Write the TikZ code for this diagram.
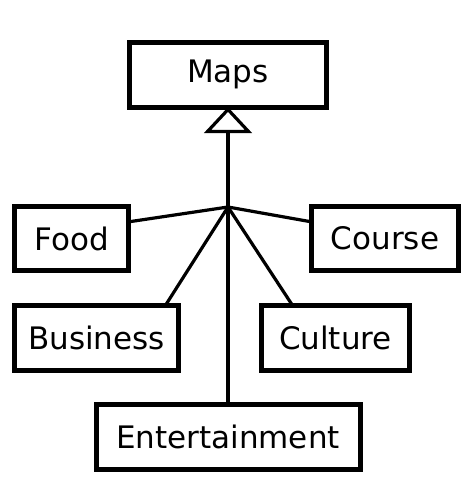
\documentclass[tikz,border=0pt]{standalone}
\usepackage{fontspec}
\setmainfont{DejaVu Sans}
\usetikzlibrary{arrows.meta,calc}
\begin{document}
\begin{tikzpicture}[x=1pt,y=-1pt,
  cls/.style={draw=black,line width=5pt,rectangle,inner sep=0pt,outer sep=0pt,
    font=\fontsize{31}{37}\selectfont,fill=white},
  link/.style={line width=3.2pt,black},
  gen/.style={draw=black,line width=3.2pt,fill=white,line join=miter}]
\useasboundingbox (0,0) rectangle (474,477);
\node[cls,minimum width=197pt,minimum height=65.5pt] (maps) at (228,74.75) {Maps};
\node[cls,minimum width=114pt,minimum height=64pt] (food) at (71.5,238.5) {Food};
\node[cls,minimum width=147pt,minimum height=64pt] (course) at (385,238.5) {Course};
\node[cls,minimum width=164pt,minimum height=65pt] (business) at (96.5,338) {Business};
\node[cls,minimum width=148pt,minimum height=65pt] (culture) at (335.5,338) {Culture};
\node[cls,minimum width=264pt,minimum height=65pt] (ent) at (228,437) {Entertainment};
\coordinate (j) at (228,207);
\draw[link] (j) -- (maps.south);
\draw[gen] ($(maps.south)+(0,2)$) -- ($(maps.south)+(-20.5,24)$) -- ($(maps.south)+(20.5,24)$) -- cycle;
\draw[link] (j) -- ($(food.north east)!0.24!(food.south east)$);
\draw[link] (j) -- ($(course.north west)!0.24!(course.south west)$);
\draw[link] (j) -- ($(business.north west)!0.92!(business.north east)$);
\draw[link] (j) -- ($(culture.north west)!0.21!(culture.north east)$);
\draw[link] (j) -- (ent.north);
\end{tikzpicture}
\end{document}
